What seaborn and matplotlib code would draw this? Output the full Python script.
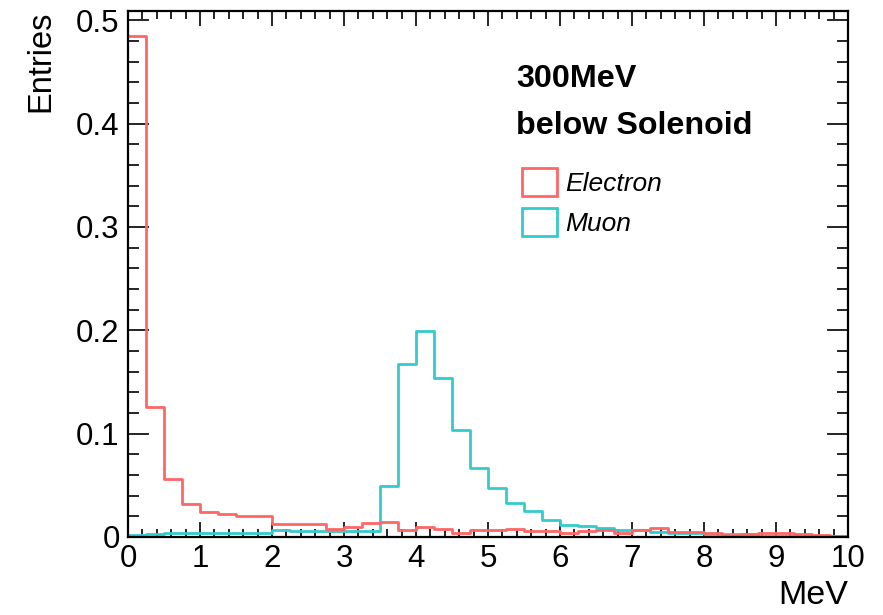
import numpy as np
import pandas as pd
import matplotlib
matplotlib.use("Agg")
import matplotlib.pyplot as plt
from matplotlib.patches import Patch
from matplotlib.ticker import MultipleLocator, FixedLocator, FixedFormatter
import seaborn as sns

# Histogram binning: 40 bins of 0.25 MeV from 0 to 10 MeV
bin_width = 0.25
bin_range = (0.0, 10.0)
bin_edges = np.linspace(bin_range[0], bin_range[1], 41)

# Normalised entries per bin
electron = [0.485, 0.126, 0.056, 0.032, 0.024, 0.022, 0.020, 0.020,
            0.0126, 0.0126, 0.013, 0.0073, 0.0095, 0.014, 0.0145, 0.0070,
            0.0098, 0.0075, 0.0043, 0.0072, 0.0063, 0.0078, 0.0056, 0.0056,
            0.0035, 0.0055, 0.0068, 0.0042, 0.0068, 0.009, 0.0045, 0.0045,
            0.0042, 0.002, 0.0026, 0.0035, 0.0035, 0.003, 0.002, 0.001]
muon = [0.0022, 0.0033, 0.0038, 0.0041, 0.0041, 0.0036, 0.004, 0.004,
        0.007, 0.006, 0.0055, 0.0055, 0.006, 0.006, 0.0497, 0.167,
        0.1997, 0.154, 0.1035, 0.067, 0.0474, 0.0332, 0.0248, 0.0165,
        0.0118, 0.0102, 0.0084, 0.0071, 0.0068, 0.0052, 0.0035, 0.0035,
        0.003, 0.0027, 0.0026, 0.0013, 0.001, 0.001, 0.001, 0.001]

series_names = ["Electron", "Muon"]
series_colors = ["#FF6666", "#33CCCC"]

x_ticks = [0, 1, 2, 3, 4, 5, 6, 7, 8, 9, 10]
y_ticks = [0.0, 0.1, 0.2, 0.3, 0.4, 0.5]
y_tick_labels = ["0", "0.1", "0.2", "0.3", "0.4", "0.5"]

centers = 0.5 * (bin_edges[:-1] + bin_edges[1:])
df = pd.DataFrame({
    "energy": np.concatenate([centers, centers]),
    "entries": np.concatenate([electron, muon]),
    "particle": [series_names[0]] * len(centers) + [series_names[1]] * len(centers),
})

sns.set_style("ticks")
plt.rcParams["font.family"] = ["Liberation Sans", "DejaVu Sans"]
plt.rcParams["text.color"] = "black"
plt.rcParams["axes.labelcolor"] = "black"

fig = plt.figure(figsize=(8.83, 6.15), dpi=100)
ax = fig.add_axes([128 / 883, 1 - 537 / 615, 720 / 883, 526 / 615])

sns.histplot(data=df, x="energy", weights="entries", hue="particle",
             hue_order=series_names, palette=series_colors,
             binwidth=bin_width, binrange=bin_range,
             element="step", fill=False, linewidth=2.0, legend=False, ax=ax)

ax.set_xlim(0, 10)
ax.set_ylim(0, 0.509)

ax.xaxis.set_major_locator(FixedLocator(x_ticks))
ax.xaxis.set_minor_locator(MultipleLocator(0.2))
ax.yaxis.set_major_locator(FixedLocator(y_ticks))
ax.yaxis.set_major_formatter(FixedFormatter(y_tick_labels))
ax.yaxis.set_minor_locator(MultipleLocator(0.02))

ax.tick_params(which="both", direction="in", top=True, right=True,
               labelsize=22.5, width=1.2, colors="black")
ax.tick_params(axis="x", which="major", length=11, pad=5)
ax.tick_params(axis="x", which="minor", length=6)
ax.tick_params(axis="y", which="major", length=15, pad=6)
ax.tick_params(axis="y", which="minor", length=8)
for side in ax.spines.values():
    side.set_linewidth(1.6)
    side.set_color("black")

ax.set_xlabel("MeV", fontsize=24.5, loc="right")
ax.xaxis.set_label_coords(1.0, -0.082)
ax.set_ylabel("Entries", fontsize=23.5, loc="top")
ax.yaxis.set_label_coords(-0.099, 1.0)

ax.text(516, 615 - 87, "300MeV", transform=None, fontsize=23.3,
        fontweight="bold", ha="left", va="baseline")
ax.text(516, 615 - 134, "below Solenoid", transform=None, fontsize=23.2,
        fontweight="bold", ha="left", va="baseline")

handles = [Patch(facecolor="none", edgecolor=c, linewidth=2.0) for c in series_colors]
leg = ax.legend(handles, series_names, loc="upper left",
                bbox_to_anchor=(522 / 883, 1 - 168 / 615),
                bbox_transform=fig.transFigure, frameon=False,
                prop={"style": "italic", "size": 19},
                handlelength=1.33, handleheight=1.26, handletextpad=0.3,
                labelspacing=0.45, borderpad=0, borderaxespad=0)

fig.savefig("out.png", dpi=100)
